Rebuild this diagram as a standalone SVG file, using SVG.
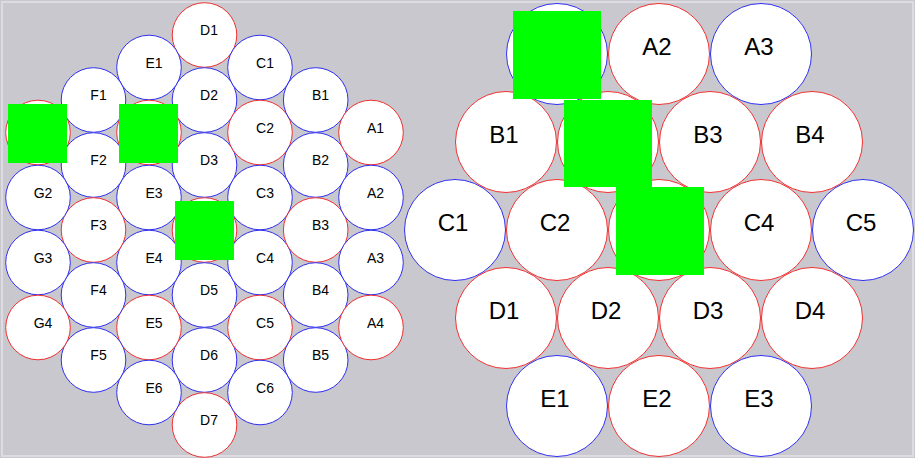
<svg xmlns="http://www.w3.org/2000/svg" width="915" height="458" viewBox="0 0 915 458">
<style>
.s circle{fill:#fff;stroke-width:1}
.r{stroke:#f03030}
.b{stroke:#3030f0}
.s text{font-family:"Liberation Sans",Arial,sans-serif;font-size:14px;fill:#000;text-anchor:middle}
.L text{font-family:"Liberation Sans",Arial,sans-serif;font-size:24px;fill:#000;text-anchor:middle}
.L circle{fill:#fff;stroke-width:1}
.g{fill:#00ff00}
</style>
<rect x="0" y="0" width="915" height="458" fill="#c9c8cf"/>
<rect x="2" y="2" width="911" height="454" fill="none" stroke="#dcdce2" stroke-width="2"/>
<g id="small" class="s">
<g id="sD1"><circle class="r" cx="204.5" cy="35" r="32.3"/><text x="209" y="35">D1</text></g>
<g id="sD2"><circle class="b" cx="204.5" cy="100" r="32.3"/><text x="209" y="100">D2</text></g>
<g id="sD3"><circle class="b" cx="204.5" cy="165" r="32.3"/><text x="209" y="165">D3</text></g>
<g id="sD4"><circle class="r" cx="204.5" cy="230" r="32.3"/></g>
<g id="sD5"><circle class="b" cx="204.5" cy="295" r="32.3"/><text x="209" y="295">D5</text></g>
<g id="sD6"><circle class="b" cx="204.5" cy="360" r="32.3"/><text x="209" y="360">D6</text></g>
<g id="sD7"><circle class="r" cx="204.5" cy="425" r="32.3"/><text x="209" y="425">D7</text></g>
<g id="sC1"><circle class="b" cx="260" cy="67.5" r="32.3"/><text x="265" y="67.5">C1</text></g>
<g id="sC2"><circle class="r" cx="260" cy="132.5" r="32.3"/><text x="265" y="132.5">C2</text></g>
<g id="sC3"><circle class="b" cx="260" cy="197.5" r="32.3"/><text x="265" y="197.5">C3</text></g>
<g id="sC4"><circle class="b" cx="260" cy="262.5" r="32.3"/><text x="265" y="262.5">C4</text></g>
<g id="sC5"><circle class="r" cx="260" cy="327.5" r="32.3"/><text x="265" y="327.5">C5</text></g>
<g id="sC6"><circle class="b" cx="260" cy="392.5" r="32.3"/><text x="265" y="392.5">C6</text></g>
<g id="sE1"><circle class="b" cx="149" cy="67.5" r="32.3"/><text x="154" y="67.5">E1</text></g>
<g id="sE2"><circle class="r" cx="149" cy="132.5" r="32.3"/></g>
<g id="sE3"><circle class="b" cx="149" cy="197.5" r="32.3"/><text x="154" y="197.5">E3</text></g>
<g id="sE4"><circle class="b" cx="149" cy="262.5" r="32.3"/><text x="154" y="262.5">E4</text></g>
<g id="sE5"><circle class="r" cx="149" cy="327.5" r="32.3"/><text x="154" y="327.5">E5</text></g>
<g id="sE6"><circle class="b" cx="149" cy="392.5" r="32.3"/><text x="154" y="392.5">E6</text></g>
<g id="sB1"><circle class="b" cx="315.7" cy="100" r="32.3"/><text x="320.5" y="100">B1</text></g>
<g id="sB2"><circle class="b" cx="315.7" cy="165" r="32.3"/><text x="320.5" y="165">B2</text></g>
<g id="sB3"><circle class="r" cx="315.7" cy="230" r="32.3"/><text x="320.5" y="230">B3</text></g>
<g id="sB4"><circle class="b" cx="315.7" cy="295" r="32.3"/><text x="320.5" y="295">B4</text></g>
<g id="sB5"><circle class="b" cx="315.7" cy="360" r="32.3"/><text x="320.5" y="360">B5</text></g>
<g id="sF1"><circle class="b" cx="93.5" cy="100" r="32.3"/><text x="98.5" y="100">F1</text></g>
<g id="sF2"><circle class="b" cx="93.5" cy="165" r="32.3"/><text x="98.5" y="165">F2</text></g>
<g id="sF3"><circle class="r" cx="93.5" cy="230" r="32.3"/><text x="98.5" y="230">F3</text></g>
<g id="sF4"><circle class="b" cx="93.5" cy="295" r="32.3"/><text x="98.5" y="295">F4</text></g>
<g id="sF5"><circle class="b" cx="93.5" cy="360" r="32.3"/><text x="98.5" y="360">F5</text></g>
<g id="sA1"><circle class="r" cx="371" cy="132.5" r="32.3"/><text x="375.5" y="132.5">A1</text></g>
<g id="sA2"><circle class="b" cx="371" cy="197.5" r="32.3"/><text x="375.5" y="197.5">A2</text></g>
<g id="sA3"><circle class="b" cx="371" cy="262.5" r="32.3"/><text x="375.5" y="262.5">A3</text></g>
<g id="sA4"><circle class="r" cx="371" cy="327.5" r="32.3"/><text x="375.5" y="327.5">A4</text></g>
<g id="sG1"><circle class="r" cx="38" cy="132.5" r="32.3"/></g>
<g id="sG2"><circle class="b" cx="38" cy="197.5" r="32.3"/><text x="43" y="197.5">G2</text></g>
<g id="sG3"><circle class="b" cx="38" cy="262.5" r="32.3"/><text x="43" y="262.5">G3</text></g>
<g id="sG4"><circle class="r" cx="38" cy="327.5" r="32.3"/><text x="43" y="327.5">G4</text></g>
</g>
<g id="large" class="L">
<g id="lA1"><circle class="b" cx="557" cy="54" r="50.5"/></g>
<g id="lA2"><circle class="r" cx="659" cy="54" r="50.5"/><text x="657" y="55">A2</text></g>
<g id="lA3"><circle class="b" cx="761" cy="54" r="50.5"/><text x="759" y="55">A3</text></g>
<g id="lB1"><circle class="r" cx="506" cy="142" r="50.5"/><text x="504" y="143">B1</text></g>
<g id="lB2"><circle class="r" cx="608" cy="142" r="50.5"/></g>
<g id="lB3"><circle class="r" cx="710" cy="142" r="50.5"/><text x="708" y="143">B3</text></g>
<g id="lB4"><circle class="r" cx="812" cy="142" r="50.5"/><text x="810" y="143">B4</text></g>
<g id="lC1"><circle class="b" cx="455" cy="230" r="50.5"/><text x="453" y="231">C1</text></g>
<g id="lC2"><circle class="r" cx="557" cy="230" r="50.5"/><text x="555" y="231">C2</text></g>
<g id="lC3"><circle class="r" cx="659" cy="230" r="50.5"/></g>
<g id="lC4"><circle class="r" cx="761" cy="230" r="50.5"/><text x="759" y="231">C4</text></g>
<g id="lC5"><circle class="b" cx="863" cy="230" r="50.5"/><text x="861" y="231">C5</text></g>
<g id="lD1"><circle class="r" cx="506" cy="318" r="50.5"/><text x="504" y="319">D1</text></g>
<g id="lD2"><circle class="r" cx="608" cy="318" r="50.5"/><text x="606" y="319">D2</text></g>
<g id="lD3"><circle class="r" cx="710" cy="318" r="50.5"/><text x="708" y="319">D3</text></g>
<g id="lD4"><circle class="r" cx="812" cy="318" r="50.5"/><text x="810" y="319">D4</text></g>
<g id="lE1"><circle class="b" cx="557" cy="406" r="50.5"/><text x="555" y="407">E1</text></g>
<g id="lE2"><circle class="r" cx="659" cy="406" r="50.5"/><text x="657" y="407">E2</text></g>
<g id="lE3"><circle class="b" cx="761" cy="406" r="50.5"/><text x="759" y="407">E3</text></g>
</g>
<g id="masks">
<rect class="g" x="8" y="104" width="59" height="59"/>
<rect class="g" x="119" y="104" width="59" height="59"/>
<rect class="g" x="175" y="201" width="59" height="59"/>
<rect class="g" x="513" y="11" width="88" height="88"/>
<rect class="g" x="564" y="100" width="88" height="87"/>
<rect class="g" x="616" y="187" width="88" height="88"/>
</g>
</svg>
